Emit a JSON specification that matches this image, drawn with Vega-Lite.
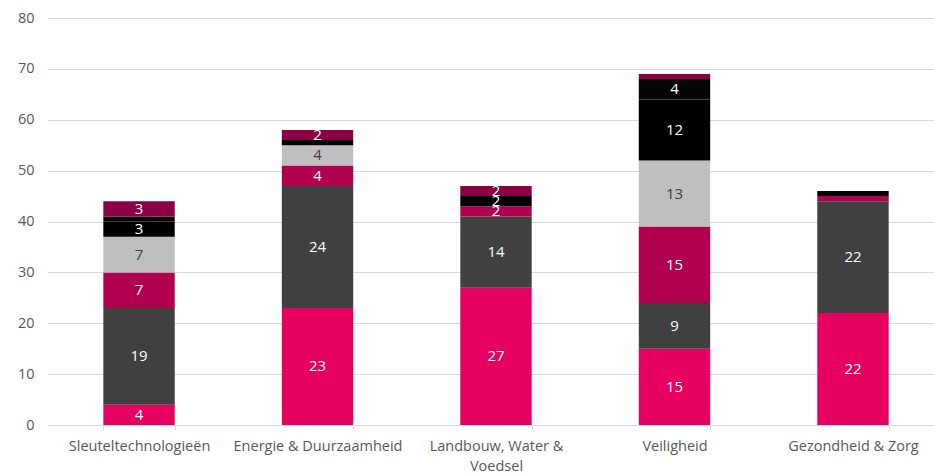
{
  "$schema": "https://vega.github.io/schema/vega-lite/v6.json",
  "width": 896,
  "height": 407,
  "autosize": {"type": "none"},
  "padding": {"left": 48, "top": 18, "right": 0, "bottom": 48},
  "config": {
    "view": {"stroke": null},
    "font": "Open Sans",
    "axis": {"labelFont": "Open Sans", "labelFontSize": 14.5, "labelColor": "#595959"}
  },
  "data": {
    "values": [
      {"cat": "Sleuteltechnologieën", "s": "s1", "o": 1, "v": 4},
      {"cat": "Sleuteltechnologieën", "s": "s2", "o": 2, "v": 19},
      {"cat": "Sleuteltechnologieën", "s": "s3", "o": 3, "v": 7},
      {"cat": "Sleuteltechnologieën", "s": "s4", "o": 4, "v": 7},
      {"cat": "Sleuteltechnologieën", "s": "s5", "o": 5, "v": 3},
      {"cat": "Sleuteltechnologieën", "s": "s6", "o": 6, "v": 1},
      {"cat": "Sleuteltechnologieën", "s": "s7", "o": 7, "v": 3},
      {"cat": "Energie & Duurzaamheid", "s": "s1", "o": 1, "v": 23},
      {"cat": "Energie & Duurzaamheid", "s": "s2", "o": 2, "v": 24},
      {"cat": "Energie & Duurzaamheid", "s": "s3", "o": 3, "v": 4},
      {"cat": "Energie & Duurzaamheid", "s": "s4", "o": 4, "v": 4},
      {"cat": "Energie & Duurzaamheid", "s": "s5", "o": 5, "v": 1},
      {"cat": "Energie & Duurzaamheid", "s": "s6", "o": 6, "v": 0},
      {"cat": "Energie & Duurzaamheid", "s": "s7", "o": 7, "v": 2},
      {"cat": "Landbouw, Water & Voedsel", "s": "s1", "o": 1, "v": 27},
      {"cat": "Landbouw, Water & Voedsel", "s": "s2", "o": 2, "v": 14},
      {"cat": "Landbouw, Water & Voedsel", "s": "s3", "o": 3, "v": 2},
      {"cat": "Landbouw, Water & Voedsel", "s": "s4", "o": 4, "v": 0},
      {"cat": "Landbouw, Water & Voedsel", "s": "s5", "o": 5, "v": 2},
      {"cat": "Landbouw, Water & Voedsel", "s": "s6", "o": 6, "v": 0},
      {"cat": "Landbouw, Water & Voedsel", "s": "s7", "o": 7, "v": 2},
      {"cat": "Veiligheid", "s": "s1", "o": 1, "v": 15},
      {"cat": "Veiligheid", "s": "s2", "o": 2, "v": 9},
      {"cat": "Veiligheid", "s": "s3", "o": 3, "v": 15},
      {"cat": "Veiligheid", "s": "s4", "o": 4, "v": 13},
      {"cat": "Veiligheid", "s": "s5", "o": 5, "v": 12},
      {"cat": "Veiligheid", "s": "s6", "o": 6, "v": 4},
      {"cat": "Veiligheid", "s": "s7", "o": 7, "v": 1},
      {"cat": "Gezondheid & Zorg", "s": "s1", "o": 1, "v": 22},
      {"cat": "Gezondheid & Zorg", "s": "s2", "o": 2, "v": 22},
      {"cat": "Gezondheid & Zorg", "s": "s3", "o": 3, "v": 1},
      {"cat": "Gezondheid & Zorg", "s": "s4", "o": 4, "v": 0},
      {"cat": "Gezondheid & Zorg", "s": "s5", "o": 5, "v": 1},
      {"cat": "Gezondheid & Zorg", "s": "s6", "o": 6, "v": 0},
      {"cat": "Gezondheid & Zorg", "s": "s7", "o": 7, "v": 0}
    ]
  },
  "transform": [
    {"stack": "v", "groupby": ["cat"], "sort": [{"field": "o", "order": "ascending"}], "as": ["y0", "y1"]},
    {"calculate": "(datum.y0 + datum.y1) / 2", "as": "ym"}
  ],
  "encoding": {
    "x": {
      "field": "cat", "type": "nominal", "sort": null,
      "scale": {"paddingInner": 0.6, "paddingOuter": 0.31},
      "axis": {
        "title": null, "labelAngle": 0, "domainColor": "#D9D9D9", "tickColor": "#D9D9D9",
        "tickBand": "extent", "tickSize": 5, "labelPadding": 9, "labelLineHeight": 20,
        "labelExpr": "datum.value == 'Landbouw, Water & Voedsel' ? ['Landbouw, Water &', 'Voedsel'] : datum.value"
      }
    }
  },
  "layer": [
    {
      "mark": {"type": "bar"},
      "encoding": {
        "y": {
          "field": "y0", "type": "quantitative",
          "scale": {"domain": [0, 80]},
          "axis": {"title": null, "values": [0, 10, 20, 30, 40, 50, 60, 70, 80], "domain": false, "ticks": false, "gridColor": "#D9D9D9", "labelPadding": 14}
        },
        "y2": {"field": "y1"},
        "color": {
          "field": "s", "type": "nominal", "legend": null,
          "scale": {
            "domain": ["s1", "s2", "s3", "s4", "s5", "s6", "s7"],
            "range": ["#E6005F", "#404040", "#B1004F", "#BFBFBF", "#000000", "#050505", "#8C0045"]
          }
        }
      }
    },
    {
      "transform": [{"filter": "datum.v >= 2"}],
      "mark": {"type": "text", "fontSize": 15, "baseline": "middle"},
      "encoding": {
        "y": {"field": "ym", "type": "quantitative"},
        "text": {"field": "v", "type": "quantitative"},
        "color": {"condition": {"test": "datum.s == 's4'", "value": "#404040"}, "value": "#FFFFFF"}
      }
    }
  ]
}
